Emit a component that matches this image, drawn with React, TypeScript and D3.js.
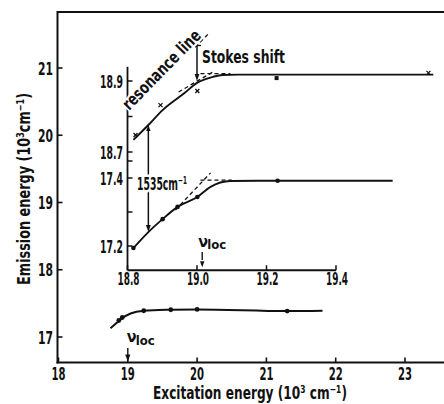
import * as d3 from 'd3'

const W = 444
const H = 404

// main plot: emission vs excitation (10^3 cm^-1)
const mainTicksX = [18, 19, 20, 21, 22, 23]
const mainTicksY = [17, 18, 19, 20, 21]
const mainLineX = [18.75, 18.85, 18.92, 19.04, 19.23, 19.62, 20.0, 21.3, 21.81]
const mainLineY = [17.13, 17.22, 17.28, 17.35, 17.39, 17.405, 17.41, 17.385, 17.39]
const mainDotX = [18.87, 18.92, 19.23, 19.62, 20.0, 21.3]
const mainDotY = [17.245, 17.29, 17.39, 17.405, 17.41, 17.385]

// inset: excitation 18.8 - 19.4, two emission scales
const insetTicksX = [18.8, 19.0, 19.2, 19.4]
const upperTicks = [18.7, 18.8, 18.9]
const upperLabels = [18.7, 18.9]
const lowerTicks = [17.2, 17.3, 17.4, 17.45]
const lowerLabels = [17.2, 17.4]

const upperLineX = [18.817, 18.86, 18.901, 18.964, 18.999, 19.047, 19.073, 19.12, 19.68]
const upperLineY = [18.734, 18.776, 18.818, 18.866, 18.894, 18.912, 18.917, 18.918, 18.918]
const upperCrossX = [18.823, 18.895, 19.001, 19.666]
const upperCrossY = [18.748, 18.832, 18.872, 18.923]
const upperSquareX = [19.229]
const upperSquareY = [18.911]
const upperTangent = [[18.947, 18.869], [19.05, 18.928]]
const upperPlateau = [[19.01, 18.921], [19.096, 18.921]]
const resonance = [[18.995, 18.995], [19.035, 19.035]]

const lowerLineX = [18.817, 18.86, 18.901, 18.944, 19.001, 19.039, 19.096, 19.2, 19.563]
const lowerLineY = [17.194, 17.241, 17.279, 17.315, 17.344, 17.374, 17.391, 17.392, 17.392]
const lowerDotX = [18.817, 18.901, 18.944, 19.001, 19.232]
const lowerDotY = [17.194, 17.279, 17.315, 17.344, 17.392]
const lowerTangent = [[18.938, 17.306], [19.039, 17.415]]
const lowerPlateau = [[19.01, 17.394], [19.1, 17.394]]

const FONT = "'Liberation Sans Narrow','DejaVu Sans Condensed','Roboto',sans-serif"

function arrowHead(tx: number, ty: number, dir: number, w = 2.6, l = 7) {
  // dir = 1 -> pointing down, -1 -> pointing up
  return `${tx},${ty} ${tx - w},${ty - dir * l} ${tx + w},${ty - dir * l}`
}

export default function App() {
  const x = d3.scaleLinear().domain([18, 23]).range([58.5, 405])
  const y = d3.scaleLinear().domain([17, 21]).range([337, 68])
  const xi = d3.scaleLinear().domain([18.8, 19.4]).range([127.5, 336])
  const yu = d3.scaleLinear().domain([18.7, 18.9]).range([152, 81])
  const yl = d3.scaleLinear().domain([17.2, 17.4]).range([246, 178])

  const left = 57.5, top = 12, bottom = 362.5
  const insetBottom = y(18) + 0.5

  const smooth = d3.line<[number, number]>().curve(d3.curveMonotoneX)
  const straight = d3.line<[number, number]>()

  const mainPath = smooth(mainLineX.map((v, i) => [x(v), y(mainLineY[i])]))
  const upperPath = smooth(upperLineX.map((v, i) => [xi(v), yu(upperLineY[i])]))
  const lowerPath = smooth(lowerLineX.map((v, i) => [xi(v), yl(lowerLineY[i])]))
  const up = (pts: number[][]) => straight(pts.map(p => [xi(p[0]), yu(p[1])] as [number, number]))
  const lo = (pts: number[][]) => straight(pts.map(p => [xi(p[0]), yl(p[1])] as [number, number]))

  const bold = { fontFamily: FONT, fontWeight: 700, fill: '#111' } as const
  const halo = { stroke: '#fff', strokeWidth: 3, paintOrder: 'stroke' } as const

  // resonance label sits on the line y = x of the upper scale
  const resAngle = -Math.atan2(yu(18.7) - yu(18.9), xi(18.9) - xi(18.7)) * 180 / Math.PI
  const resX = xi(18.895), resY = yu(18.895)

  const arrow1535X = xi(18.86)
  const stokesX = xi(19.0)
  const locMain = x(19.0)
  const locInset = xi(19.015)

  return (
    <svg width={W} height={H} viewBox={`0 0 ${W} ${H}`}
      style={{ position: 'absolute', left: 0, top: 0, background: '#fff' }}>
      <rect width={W} height={H} fill="#fff" />

      {/* main frame */}
      <g stroke="#111" strokeWidth={2} fill="none">
        <line x1={left} x2={W} y1={top} y2={top} />
        <line x1={left} x2={left} y1={top - 1} y2={bottom + 1} />
        <line x1={left - 1} x2={W} y1={bottom} y2={bottom} />
      </g>
      {mainTicksX.map(t => (
        <g key={'mx' + t}>
          <line x1={x(t)} x2={x(t)} y1={bottom} y2={bottom - 5} stroke="#111" strokeWidth={1.6} />
          <text x={x(t)} y={380} textAnchor="middle" fontSize={18} textLength={14}
            lengthAdjust="spacingAndGlyphs" style={bold}>{t}</text>
        </g>
      ))}
      {mainTicksY.map(t => (
        <g key={'my' + t}>
          <line x1={left} x2={left + 5} y1={y(t)} y2={y(t)} stroke="#111" strokeWidth={1.6} />
          <text x={53} y={y(t) + 6.5} textAnchor="end" fontSize={18} textLength={15}
            lengthAdjust="spacingAndGlyphs" style={bold}>{t}</text>
        </g>
      ))}

      {/* axis titles */}
      <text x={250} y={399} textAnchor="middle" fontSize={18} textLength={194}
        lengthAdjust="spacingAndGlyphs" style={bold}>
        Excitation energy (10³ cm⁻¹)
      </text>
      <text transform="translate(30,189) rotate(-90)" textAnchor="middle" fontSize={18}
        textLength={192} lengthAdjust="spacingAndGlyphs" style={bold}>
        Emission energy (10³cm⁻¹)
      </text>

      {/* main curve */}
      <path d={mainPath ?? ''} fill="none" stroke="#111" strokeWidth={2} />
      {mainDotX.map((v, i) => (
        <circle key={'md' + i} cx={x(v)} cy={y(mainDotY[i])} r={2.4} fill="#111" />
      ))}

      {/* main nu_loc */}
      <text x={locMain - 1} y={342} fontSize={16} style={bold}>ν</text>
      <text x={locMain + 8} y={345} fontSize={13} style={bold}>loc</text>
      <line x1={locMain} x2={locMain} y1={348} y2={356} stroke="#111" strokeWidth={1.4} />
      <polygon points={arrowHead(locMain, bottom - 1, 1)} fill="#111" />

      {/* inset axes */}
      <g stroke="#111" strokeWidth={1.8} fill="none">
        <line x1={xi(18.8)} x2={xi(18.8)} y1={yu(18.94)} y2={insetBottom} />
        <line x1={xi(18.8)} x2={xi(19.4)} y1={insetBottom} y2={insetBottom} />
      </g>
      {insetTicksX.map(t => (
        <g key={'ix' + t}>
          <line x1={xi(t)} x2={xi(t)} y1={insetBottom} y2={insetBottom - 5} stroke="#111" strokeWidth={1.5} />
          <text x={xi(t) + 1} y={285} textAnchor="middle" fontSize={17} textLength={22}
            lengthAdjust="spacingAndGlyphs" style={bold}>{t.toFixed(1)}</text>
        </g>
      ))}
      {upperTicks.map(t => (
        <line key={'ut' + t} x1={xi(18.8)} x2={xi(18.8) + 5} y1={yu(t)} y2={yu(t)} stroke="#111" strokeWidth={1.5} />
      ))}
      {upperLabels.map(t => (
        <text key={'ul' + t} x={123} y={yu(t) + 6.5} textAnchor="end" fontSize={18} textLength={23}
          lengthAdjust="spacingAndGlyphs" style={bold}>{t.toFixed(1)}</text>
      ))}
      {lowerTicks.map(t => (
        <line key={'lt' + t} x1={xi(18.8)} x2={xi(18.8) + 5} y1={yl(t)} y2={yl(t)} stroke="#111" strokeWidth={1.5} />
      ))}
      {lowerLabels.map(t => (
        <text key={'ll' + t} x={123} y={yl(t) + 6.5} textAnchor="end" fontSize={18} textLength={23}
          lengthAdjust="spacingAndGlyphs" style={bold}>{t.toFixed(1)}</text>
      ))}

      {/* dashed construction lines */}
      <g stroke="#111" strokeWidth={1.3} strokeDasharray="4 3" fill="none">
        <path d={up(upperTangent) ?? ''} />
        <path d={up(upperPlateau) ?? ''} />
        <path d={up(resonance) ?? ''} />
        <path d={lo(lowerTangent) ?? ''} />
        <path d={lo(lowerPlateau) ?? ''} />
      </g>

      {/* inset curves */}
      <path d={upperPath ?? ''} fill="none" stroke="#111" strokeWidth={1.9} />
      <path d={lowerPath ?? ''} fill="none" stroke="#111" strokeWidth={1.9} />
      {upperCrossX.map((v, i) => {
        const cx = xi(v), cy = yu(upperCrossY[i])
        return (
          <g key={'uc' + i} stroke="#111" strokeWidth={1.3}>
            <line x1={cx - 2} x2={cx + 2} y1={cy - 2} y2={cy + 2} />
            <line x1={cx - 2} x2={cx + 2} y1={cy + 2} y2={cy - 2} />
          </g>
        )
      })}
      {upperSquareX.map((v, i) => (
        <rect key={'us' + i} x={xi(v) - 2} y={yu(upperSquareY[i]) - 1} width={4} height={4} fill="#111" />
      ))}
      {lowerDotX.map((v, i) => (
        <circle key={'ld' + i} cx={xi(v)} cy={yl(lowerDotY[i])} r={2.3} fill="#111" />
      ))}

      {/* 1535 cm-1 arrow */}
      <line x1={arrow1535X} x2={arrow1535X} y1={yu(18.776) + 5} y2={yl(17.241) - 5} stroke="#111" strokeWidth={1.5} />
      <polygon points={arrowHead(arrow1535X, yu(18.776), -1, 2.2, 6)} fill="#111" />
      <polygon points={arrowHead(arrow1535X, yl(17.241), 1, 2.4, 7)} fill="#111" />
      <text x={137} y={190} fontSize={18} textLength={50} lengthAdjust="spacingAndGlyphs"
        style={{ ...bold, ...halo, strokeWidth: 5 }}>
        1535cm⁻¹
      </text>

      {/* Stokes shift arrow */}
      <line x1={stokesX} x2={stokesX} y1={yu(19.0)} y2={yu(18.9) - 5} stroke="#111" strokeWidth={1.5} />
      <line x1={stokesX} x2={stokesX + 4} y1={yu(19.0)} y2={yu(19.0)} stroke="#111" strokeWidth={1.3} />
      <polygon points={arrowHead(stokesX, yu(18.9), 1, 2.4, 7)} fill="#111" />
      <text x={202} y={63} fontSize={18} textLength={83} lengthAdjust="spacingAndGlyphs" style={bold}>
        Stokes  shift
      </text>

      {/* resonance line label */}
      <text transform={`translate(${resX + 5},${resY - 9}) rotate(${resAngle})`} textAnchor="middle"
        fontSize={17} textLength={104} lengthAdjust="spacingAndGlyphs" style={{ ...bold, ...halo, strokeWidth: 4 }}>
        resonance line
      </text>

      {/* inset nu_loc */}
      <text x={locInset - 4} y={247} fontSize={16} style={bold}>ν</text>
      <text x={locInset + 5} y={249} fontSize={13} style={bold}>loc</text>
      <line x1={locInset} x2={locInset} y1={252} y2={260} stroke="#111" strokeWidth={1.4} />
      <polygon points={arrowHead(locInset, insetBottom - 3, 1, 2.2, 6)} fill="#111" />
    </svg>
  )
}
